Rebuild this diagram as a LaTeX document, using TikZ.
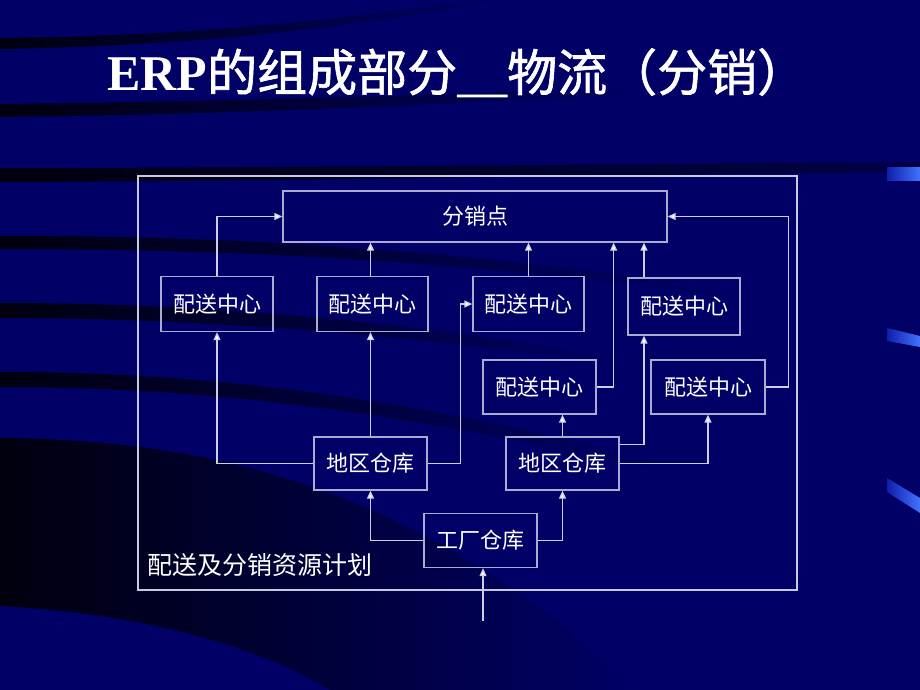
\documentclass[tikz,border=0pt]{standalone}
\usepackage{fontspec}
\newfontfamily\cjk{Noto Sans CJK SC}
\newfontfamily\cjkt[FakeBold=1.3]{Noto Sans CJK SC}
\newfontfamily\tnr{Liberation Serif}
\usetikzlibrary{arrows.meta,calc}
\definecolor{bgc}{RGB}{0,0,102}
\definecolor{darkb}{RGB}{0,0,14}
\definecolor{boxc}{RGB}{170,170,210}
\definecolor{linec}{RGB}{205,205,230}
\definecolor{frmc}{RGB}{200,200,225}
\definecolor{decob}{RGB}{65,115,255}
\definecolor{decod}{RGB}{15,30,170}
\begin{document}
\begin{tikzpicture}[x=1pt,y=-1pt,
  nbox/.style={draw=boxc,line width=1.3pt,inner sep=0pt,text=white,
    font=\cjk\fontsize{22}{26}\selectfont,minimum width=112pt,minimum height=55pt},
  conn/.style={draw=linec,line width=1.2pt,-{Triangle[length=8pt,width=7pt,fill=white]}},
  band/.style={left color=darkb,right color=bgc}]
% background
\fill[bgc] (0,0) rectangle (920,690);
\useasboundingbox (0,0) rectangle (920,690);
\shade[band] (0,38) .. controls (200,36) and (350,18) .. (480,0) -- (505,0)
  .. controls (360,26) and (200,46) .. (0,49) -- cycle;
\shade[band] (0,104) .. controls (200,102) and (400,96) .. (640,88) -- (640,95)
  .. controls (400,106) and (200,115) .. (0,117) -- cycle;
\shade[left color=darkb,right color={rgb,255:red,0;green,0;blue,70}] (0,168) .. controls (300,168) and (600,164) .. (920,162) -- (920,172)
  .. controls (600,175) and (300,181) .. (0,182) -- cycle;
\shade[band] (0,236) .. controls (250,236) and (450,250) .. (720,288) -- (720,295)
  .. controls (450,261) and (250,249) .. (0,249) -- cycle;
\shade[band] (0,303) .. controls (200,303) and (400,320) .. (620,358) -- (620,365)
  .. controls (400,334) and (200,318) .. (0,318) -- cycle;
\shade[band] (0,372) .. controls (200,372) and (400,395) .. (660,462) -- (660,472)
  .. controls (400,410) and (200,387) .. (0,387) -- cycle;
\shade[band] (0,438) .. controls (220,440) and (420,490) .. (640,690) -- (330,690)
  .. controls (250,640) and (120,612) .. (0,606) -- cycle;
% right edge decorations
\shade[left color=decod,right color=decob] (887,167) rectangle (920,180);
\shade[left color=decod,right color=decob] (887,328) -- (920,336) -- (920,347) -- (887,341) -- cycle;
\shade[left color=decod,right color=decob] (887,478) -- (920,498) -- (920,513) -- (887,492) -- cycle;
% title
\node[anchor=base west,inner sep=0pt,text=white] (title) at (107,91)
  {\fontsize{50}{60}\selectfont{\tnr\bfseries ERP}{\cjkt 的组成部分＿物流（分销）}};
% frame
\node[draw=frmc,line width=1.2pt,minimum width=659pt,minimum height=414pt,inner sep=0pt] (frame) at (467.5,383) {};
\node[anchor=west,inner sep=0pt,text=white,font=\cjk\fontsize{25}{30}\selectfont] (plan) at (147,565) {配送及分销资源计划};
% boxes
\node[nbox,minimum width=384pt,minimum height=51pt] (fxd) at (475,216.5) {分销点};
\node[nbox] (pA) at (217,304) {配送中心};
\node[nbox,minimum width=111pt] (pB) at (372.5,304) {配送中心};
\node[nbox,minimum width=111pt] (pC) at (528.5,304) {配送中心};
\node[nbox,minimum height=57pt] (pD) at (684,306.5) {配送中心};
\node[nbox,minimum width=113pt,minimum height=54pt] (pE) at (539.5,387) {配送中心};
\node[nbox,minimum width=114pt,minimum height=54pt] (pF) at (708,387) {配送中心};
\node[nbox,minimum width=113pt,minimum height=53pt] (dq1) at (370.5,463.5) {地区仓库};
\node[nbox,minimum width=113pt,minimum height=53pt] (dq2) at (562.5,463.5) {地区仓库};
\node[nbox,minimum width=113pt,minimum height=54pt] (gc) at (480.5,540.5) {工厂仓库};
\coordinate (src) at (483,621);
\coordinate (dx) at ($(pD.north)+(-40,0)$);
% connectors
\draw[conn] (pA.north) |- (fxd.west);
\draw[conn] (dq1.north |- pB.north) -- (dq1.north |- fxd.south);
\draw[conn] (pC.north) -- (pC.north |- fxd.south);
\draw[conn] (pE.east) -- ++(17,0) coordinate (e1) -- (e1 |- fxd.south);
\draw[conn] (dx) -- (dx |- fxd.south);
\draw[conn] (pF.east) -- ++(23,0) |- (fxd.east);
\draw[conn] (dq1.west) -| (pA.south);
\draw[conn] (dq1.north) -- (dq1.north |- pB.south);
\draw[conn] (dq1.east) -- ++(33,0) |- (pC.west);
\draw[conn] (dq2.north) -- (dq2.north |- pE.south);
\draw[conn] ($(dq2.east)+(0,-19)$) -| (dx |- pD.south);
\draw[conn] (dq2.east) -| (pF.south);
\draw[conn] (gc.west) -| (dq1.south);
\draw[conn] (gc.east) -| (dq2.south);
\draw[conn] (src) -- (src |- gc.south);
\end{tikzpicture}
\end{document}
